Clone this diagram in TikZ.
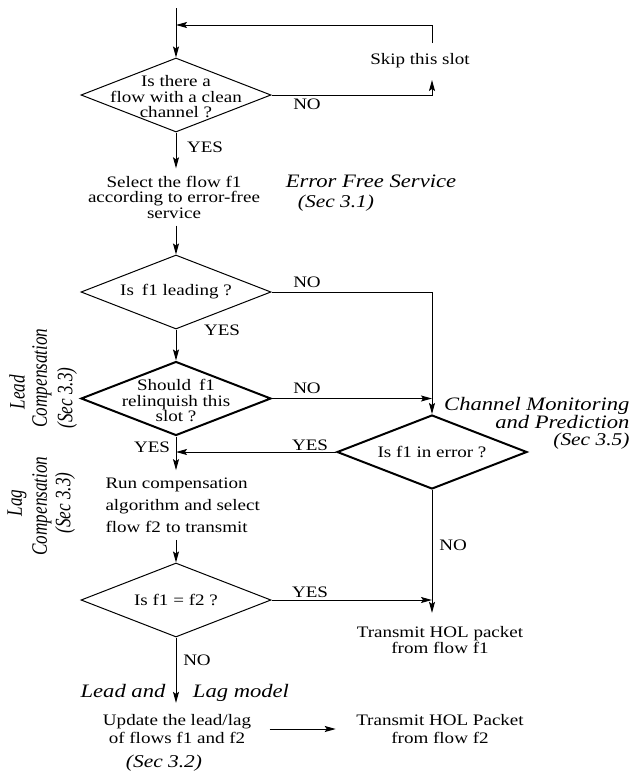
\documentclass[tikz,border=0pt]{standalone}
\usepackage{fontspec}
\setmainfont{Liberation Serif}[FakeStretch=1.19]
\newfontfamily\sidefont{Liberation Serif}[FakeStretch=0.78]
\usetikzlibrary{arrows.meta,shapes.geometric,positioning}

\begin{document}
\begin{tikzpicture}[x=1pt,y=-1pt,>={Stealth[length=11pt,width=6pt,inset=2pt]}]
\tikzstyle{every node}=[inner sep=0pt, font=\fontsize{16}{15.5}\selectfont]
\tikzstyle{every path}=[line width=1pt]
\tikzstyle{test}=[diamond, draw, minimum width=190pt, minimum height=74pt]
\tikzstyle{hard test}=[test, line width=2pt]
\tikzstyle{action}=[align=center, inner sep=7pt]
\tikzstyle{title}=[anchor=base, font=\fontsize{19}{21}\selectfont\itshape]
\tikzstyle{sec}=[anchor=base, font=\fontsize{18}{20}\selectfont\itshape]
\tikzstyle{side}=[rotate=90, font=\fontsize{22}{24}\sidefont\itshape]
\useasboundingbox (0,0) rectangle (639,777);
% decisions
\node [test, label={[align=center, yshift=-2pt]center:Is there a\\flow with a clean\\channel ?}] (clean) at (176,95) {};
\node [test, label={center:Is\enspace f1 leading ?}] (leading) at (176,292) {};
\node [hard test, label={[align=center, yshift=-2pt]center:Should\enspace f1\\relinquish this\\slot ?}] (giveup) at (176,398.5) {};
\node [hard test, label={center:Is f1 in error ?}] (error) at (432,452) {};
\node [test, label={center:Is f1 = f2 ?}] (same) at (176,600) {};
% actions
\node (skip) at (420,61) {Skip this slot};
\node [action] (select) at (174,197) {Select the flow f1\\according to error-free\\service};
\node [action, align=left, anchor=west, font=\fontsize{16}{22}\selectfont] (run) at (98,505) {Run compensation\\algorithm and select\\flow f2 to transmit};
\node [action, inner ysep=13pt, font=\fontsize{16}{16}\selectfont] (sendone) at (440,640) {Transmit HOL packet\\from flow f1};
\node [action, inner xsep=18pt, inner ysep=11pt, font=\fontsize{16}{18}\selectfont] (update) at (177,729) {Update the lead/lag\\of flows f1 and f2};
\node [action, inner xsep=20pt, font=\fontsize{16}{18}\selectfont] (sendtwo) at (440,729) {Transmit HOL Packet\\from flow f2};
\coordinate (top) at (176,8);
\coordinate (join) at (176,25);
\coordinate (skipback) at (432,43);
\coordinate (skipup) at (432,80);
% connectors
\draw [->] (top) -- (clean);
\draw [->] (clean.east) -| (skipup);
\draw [->] (skipback) |- (join);
\draw [->] (clean.south) -- (clean.south |- select.north);
\draw [->] (select.south -| leading.north) -- (leading.north);
\draw [->] (leading.east) -| (error.north);
\draw [->] (leading) -- (giveup);
\draw [->] (giveup.east) -- (giveup.east -| error.north);
\draw [->] (error.west) -- (error.west -| giveup.south);
\draw [->] (giveup.south) -- (giveup.south |- run.north);
\draw [->] (run.south -| same.north) -- (same.north);
\draw [->] (same.east) -- (same.east -| error.south);
\draw [->] (error.south) -- (error.south |- sendone.north);
\draw [->] (same.south) -- (same.south |- update.north);
\draw [->] (update) -- (sendtwo);
% answers
\node (no1) at (307,104) {NO};
\node (yes1) at (205,147) {YES};
\node (no2) at (307,282) {NO};
\node (yes2) at (222,330) {YES};
\node (no3) at (307,388) {NO};
\node (yes3) at (152,447) {YES};
\node (yes4) at (310,445) {YES};
\node (no4) at (453,545) {NO};
\node (yes5) at (310,592) {YES};
\node (no5) at (197,660) {NO};
% sections
\node [title] (efs) at (371,187) {Error Free Service};
\node [sec] (efssec) at (336,207) {(Sec 3.1)};
\node [title, anchor=base east] (cmp1) at (630,410.5) {Channel Monitoring};
\node [title, anchor=base east] (cmp2) at (630,428) {and Prediction};
\node [sec, anchor=base east] (cmpsec) at (630,445) {(Sec 3.5)};
\node [title] (llm1) at (123,697) {Lead and};
\node [title] (llm2) at (241,697) {Lag model};
\node [sec] (llmsec) at (164,767) {(Sec 3.2)};
\node [side] (leadname) at (17,392) {Lead};
\node [side] (leadcomp) at (42,378) {Compensation};
\node [side] (leadsec) at (67,398) {(Sec 3.3)};
\node [side] (lagname) at (17,503) {Lag};
\node [side] (lagcomp) at (42,506) {Compensation};
\node [side] (lagsec) at (65,503) {(Sec 3.3)};
\end{tikzpicture}
\end{document}
